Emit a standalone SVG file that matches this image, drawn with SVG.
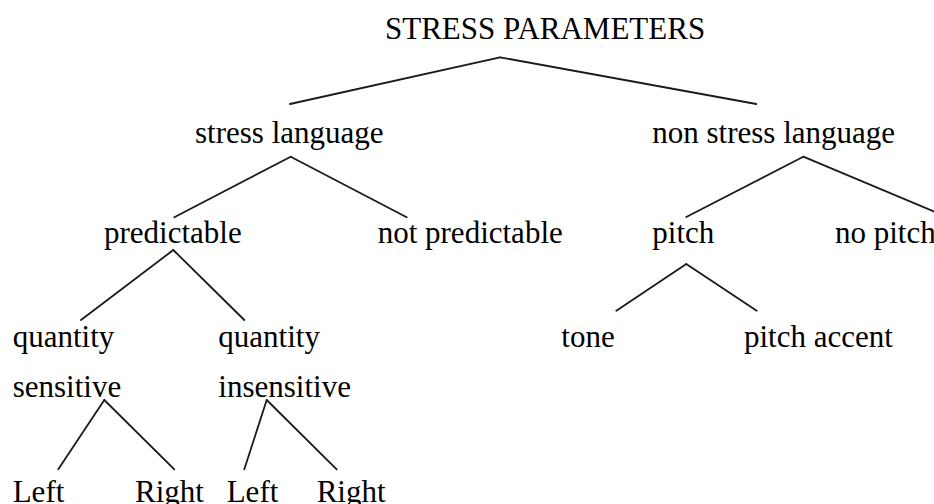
<svg xmlns="http://www.w3.org/2000/svg" width="934" height="504" viewBox="0 0 934 504">
<style>
text{font-family:"Liberation Serif","Times New Roman",serif;font-size:31px;fill:#000}
.e line{stroke:#1a1a1a;stroke-width:1.8;stroke-linecap:round}
</style>
<rect width="934" height="504" fill="#fff"/>
<g class="e" id="connectors">
<line x1="500" y1="57.3" x2="290" y2="104"/>
<line x1="500" y1="57.3" x2="756.3" y2="104"/>
<line x1="290.7" y1="156.7" x2="174.3" y2="217.3"/>
<line x1="290.7" y1="156.7" x2="406.7" y2="217.3"/>
<line x1="803.3" y1="156.7" x2="686.3" y2="217"/>
<line x1="803.3" y1="156.7" x2="946" y2="216.5"/>
<line x1="173.3" y1="250" x2="81" y2="320"/>
<line x1="173.3" y1="250" x2="244.3" y2="320"/>
<line x1="686.3" y1="264" x2="616.3" y2="310.7"/>
<line x1="686.3" y1="264" x2="756.7" y2="310.7"/>
<line x1="104.3" y1="400" x2="58.3" y2="469.3"/>
<line x1="104.3" y1="400" x2="174.3" y2="469.3"/>
<line x1="266.7" y1="400" x2="244.3" y2="469.3"/>
<line x1="266.7" y1="400" x2="336.7" y2="469.3"/>
</g>
<g id="root"><text x="385" y="38.5">STRESS PARAMETERS</text></g>
<g id="stress-language"><text x="195" y="142.5">stress language</text></g>
<g id="non-stress-language"><text x="652.3" y="142.5">non stress language</text></g>
<g id="predictable"><text x="104" y="242.7">predictable</text></g>
<g id="not-predictable"><text x="377.7" y="242.7">not predictable</text></g>
<g id="pitch"><text x="652.3" y="242.7">pitch</text></g>
<g id="no-pitch"><text x="835" y="242.7">no pitch</text></g>
<g id="quantity-sensitive"><text x="12.7" y="346.7">quantity</text><text x="12.7" y="396.7">sensitive</text></g>
<g id="quantity-insensitive"><text x="218.3" y="346.7">quantity</text><text x="218.3" y="396.7">insensitive</text></g>
<g id="tone"><text x="561.3" y="346.7">tone</text></g>
<g id="pitch-accent"><text x="744" y="346.7">pitch accent</text></g>
<g id="left-1"><text x="12.7" y="502">Left</text></g>
<g id="right-1"><text x="135" y="502">Right</text></g>
<g id="left-2"><text x="226.7" y="502">Left</text></g>
<g id="right-2"><text x="316.7" y="502">Right</text></g>
</svg>
